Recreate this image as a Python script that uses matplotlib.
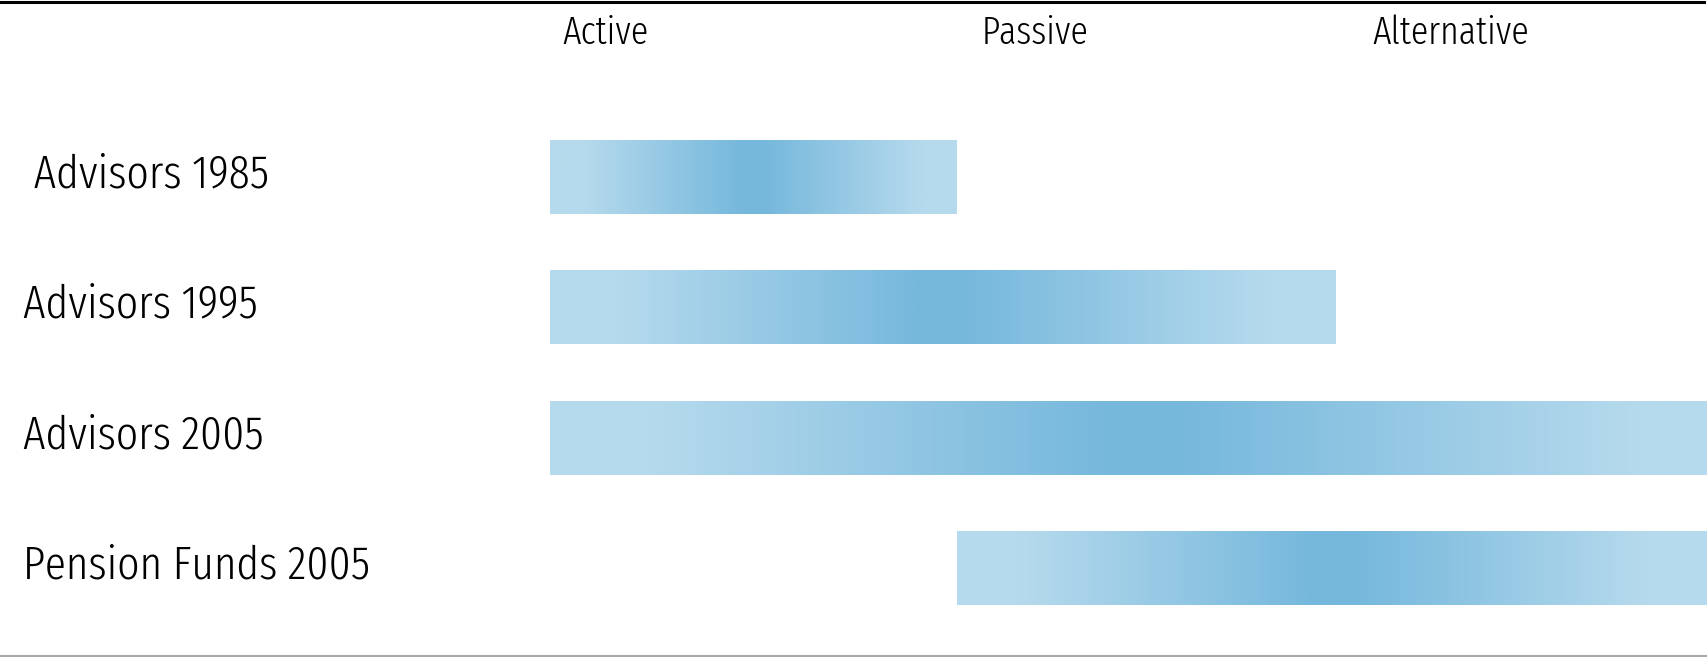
import numpy as np
import matplotlib
matplotlib.use("Agg")
import matplotlib.pyplot as plt
import matplotlib.transforms as mtrans
from matplotlib.colors import LinearSegmentedColormap
from matplotlib.lines import Line2D

plt.rcParams['font.family'] = ['Fira Sans Extra Condensed', 'Liberation Sans Narrow', 'DejaVu Sans']
plt.rcParams['font.weight'] = 300

# data
columns = ["Active", "Passive", "Alternative"]
rows = [" Advisors 1985", "Advisors 1995", "Advisors 2005", "Pension Funds 2005"]
starts = [0.0, 0.0, 0.0, 1.0]
ends = [1.0, 1.93, 2.92, 2.85]

light = "#b6daed"
dark = "#76b8dc"
cmap = LinearSegmentedColormap.from_list(
    "bar", [(0.0, light), (0.08, light), (0.47, dark), (0.53, dark), (0.92, light), (1.0, light)])

W, H = 1707, 657
fig = plt.figure(figsize=(W / 100, H / 100), dpi=100)
ax = fig.add_axes([550 / W, 0, 1 - 550 / W, 1])
ax.axis("off")

grad = np.linspace(0, 1, 512).reshape(1, -1)
ypos = np.arange(len(rows))
bar_h = 0.568
bars = ax.barh(ypos, np.subtract(ends, starts), left=starts, height=bar_h,
               color="none", edgecolor="none")
for b, s, e, y in zip(bars, starts, ends, ypos):
    im = ax.imshow(grad, cmap=cmap, aspect="auto", interpolation="bilinear",
                   extent=(s, e, y + bar_h / 2, y - bar_h / 2), zorder=2)
    im.set_clip_path(b)

ax.set_xlim(0, (W - 550) / 407)
ax.set_ylim(3.683, -1.358)

# row labels
row_tr = mtrans.blended_transform_factory(fig.transFigure, ax.transData)
for y, lab in zip(ypos, rows):
    fig.text(23 / W, y + 0.08, lab, fontsize=34, va="baseline", ha="left", transform=row_tr)

# column headers
head_tr = mtrans.blended_transform_factory(ax.transData, fig.transFigure)
header_x = [0.03, 1.06, 2.02]
for x, lab in zip(header_x, columns):
    ax.text(x, 1 - 44 / H, lab, fontsize=28, va="baseline", ha="left", transform=head_tr)

# rules
fig.add_artist(Line2D([0, 1704 / W], [1 - 1.5 / H, 1 - 1.5 / H], color="black", lw=2.2))
fig.add_artist(Line2D([0, 1], [1.5 / H, 1.5 / H], color="#a8a8a8", lw=1.5))

fig.savefig("out.png", dpi=100)
